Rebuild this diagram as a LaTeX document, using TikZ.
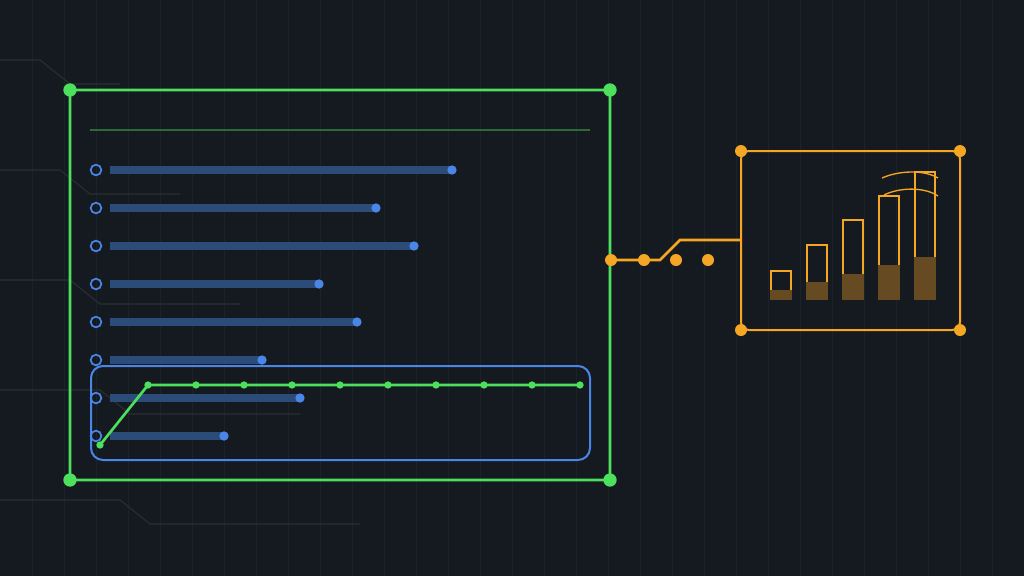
\documentclass[tikz,border=0pt]{standalone}
\usetikzlibrary{positioning}
\definecolor{bg}{HTML}{151A21}
\definecolor{grid}{HTML}{1C222A}
\definecolor{trace}{HTML}{2A3030}
\definecolor{gfr}{HTML}{4CE05C}
\definecolor{ghead}{HTML}{2E6A38}
\definecolor{bblue}{HTML}{4A86E8}
\definecolor{bbar}{HTML}{2B4C78}
\definecolor{orng}{HTML}{F5A623}
\definecolor{obar}{HTML}{664A22}
\tikzset{every picture/.style={line width=0.75pt},
  trace/.style={draw=trace,line width=0.8pt},
  gdot/.style={circle,fill=gfr,inner sep=0pt,minimum size=10pt},
  sgdot/.style={circle,fill=gfr,inner sep=0pt,minimum size=5.5pt},
  odot/.style={circle,fill=orng,inner sep=0pt,minimum size=9pt},
  bdot/.style={circle,fill=bblue,inner sep=0pt,minimum size=7pt},
  bring/.style={circle,draw=bblue,line width=1.3pt,inner sep=0pt,minimum size=8pt},
  bar/.style={draw=bbar,line width=5.5pt},
  obox/.style={draw=orng,line width=1.5pt}}
\begin{document}
\begin{tikzpicture}[x=0.75pt,y=0.75pt,yscale=-1,xscale=1]
\fill[bg] (0,0) rectangle (1024,576);
\useasboundingbox (0,0) rectangle (1024,576);
% grid
\foreach \x in {32,64,...,1024} \draw[grid,line width=0.6pt] (\x,0) -- (\x,576);
% traces
\draw[trace] (0,60) -- (40,60) -- (70,84) -- (120,84);
\draw[trace] (0,170) -- (60,170) -- (90,194) -- (180,194);
\draw[trace] (0,280) -- (70,280) -- (100,304) -- (240,304);
\draw[trace] (0,390) -- (100,390) -- (130,414) -- (300,414);
\draw[trace] (0,500) -- (120,500) -- (150,524) -- (360,524);
% green frame
\draw[gfr,line width=2pt,rounded corners=4pt] (70,90) rectangle (610,480);
\foreach \p/\n in {{(70,90)}/ga,{(610,90)}/gb,{(70,480)}/gc,{(610,480)}/gd}
  \node[gdot] (\n) at \p {};
\draw[ghead,line width=1.5pt] (90,130) -- (590,130);
% rows
\foreach \y/\e [count=\i] in {170/452,208/376,246/414,284/319,322/357,360/262,398/300,436/224}{
  \node[bring] (r\i) at (96,\y) {};
  \draw[bar] (110,\y) -- (\e-2,\y);
  \node[bdot] (e\i) at (\e,\y) {};
}
% blue selection
\draw[bblue,line width=1.5pt,rounded corners=9pt] (91,366) rectangle (590,460);
% green series
\node[sgdot] (s0) at (100,445) {};
\foreach \x [count=\i] in {148,196,...,580} \node[sgdot] (s\i) at (\x,385) {};
\draw[gfr,line width=2pt] (s0.center) -- (s1.center) -- (s10.center);
% connector
\node[odot] (c1) at (611,260) {};
\node[odot] (c2) at (644,260) {};
\node[odot] (c3) at (676,260) {};
\node[odot] (c4) at (708,260) {};
\coordinate (cin) at (740,240);
\draw[orng,line width=2pt] (c1.center) -- (660,260) -- (680,240) -- (cin);
% chart box
\draw[obox,rounded corners=6pt] (741,151) rectangle (960,330);
\foreach \p/\n in {{(741,151)}/oa,{(960,151)}/ob,{(741,330)}/oc,{(960,330)}/od}
  \node[odot] (\n) at \p {};
\foreach \x/\t/\f in {770/271/290,806/245/282,842/220/274,878/196/265,914/172/257}{
  \fill[obar] (\x,\f) rectangle (\x+22,300);
  \draw[orng,line width=1.3pt] (\x+1,\f) -- (\x+1,\t) -- (\x+21,\t) -- (\x+21,\f);
}
\draw[orng,line width=1pt] (882,178) .. controls (900,170) and (925,170) .. (938,178);
\draw[orng,line width=1pt] (884,195) .. controls (900,187) and (925,187) .. (938,196);
\end{tikzpicture}
\end{document}
